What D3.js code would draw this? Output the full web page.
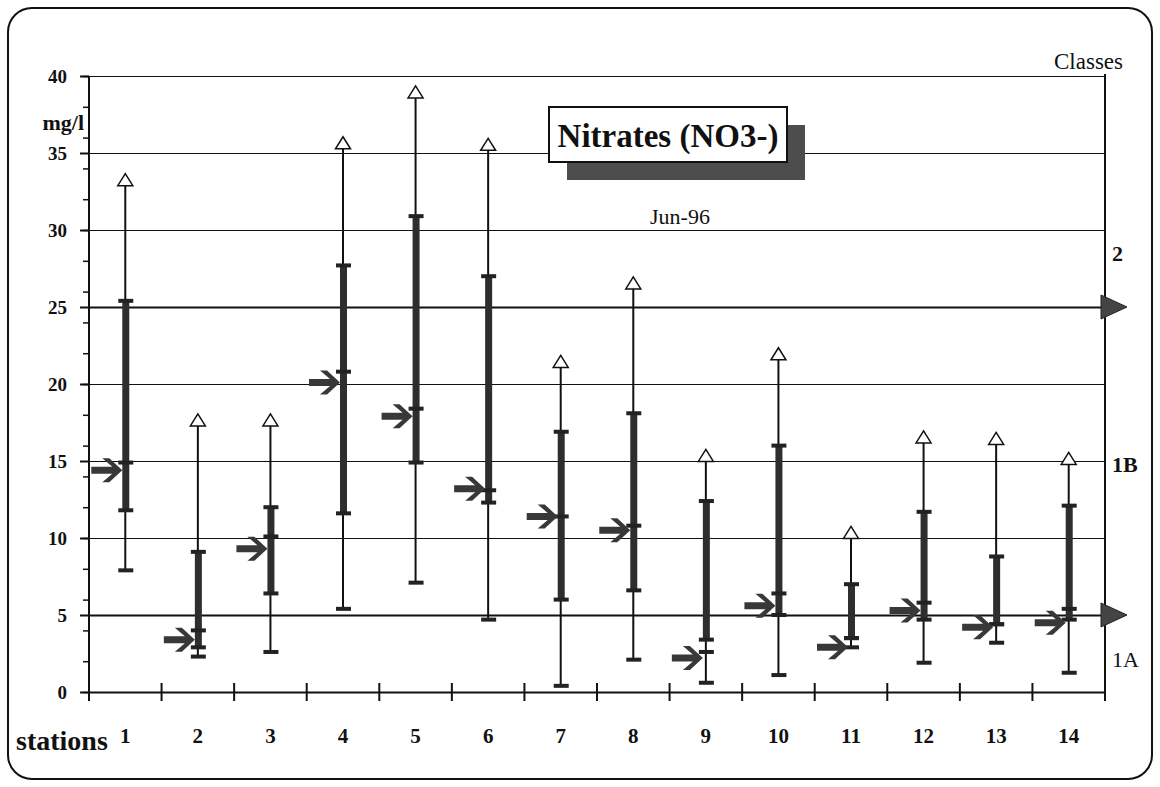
<!DOCTYPE html>
<html>
<head>
<meta charset="utf-8">
<script src="https://cdn.jsdelivr.net/npm/d3@7"></script>
<style>
  body { margin: 0; background: #fff; }
  svg { display: block; font-family: "Liberation Serif", "Times New Roman", serif; }
</style>
</head>
<body>
<script>
// Nitrates (NO3-) per station, Jun-96
var stations  = ["1","2","3","4","5","6","7","8","9","10","11","12","13","14"];
var maxVals   = [33.2, 17.6, 17.6, 35.6, 38.9, 35.5, 21.4, 26.5, 15.3, 21.9, 10.3, 16.5, 16.4, 15.1];
var upperVals = [25.4,  9.1, 12.0, 27.7, 30.9, 27.0, 16.9, 18.1, 12.4, 16.0,  7.0, 11.7,  8.8, 12.1];
var midVals   = [14.9,  4.0, 10.1, 20.8, 18.4, 13.1, 11.4, 10.8,  2.6,  6.4,  3.5,  5.8,  4.4,  5.4];
var lowerVals = [11.8,  2.9,  6.4, 11.6, 14.9, 12.3,  6.0,  6.6,  3.4,  5.0,  3.5,  4.7,  4.4,  4.7];
var minVals   = [ 7.9,  2.3,  2.6,  5.4,  7.1,  4.7,  0.4,  2.1,  0.6,  1.1,  2.9,  1.9,  3.2,  1.25];
var meanVals  = [14.4,  3.4,  9.3, 20.1, 17.9, 13.2, 11.4, 10.5,  2.2,  5.6,  2.9,  5.3,  4.2,  4.5];

var yTicks = [0, 5, 10, 15, 20, 25, 30, 35, 40];
var classLimits = [25, 5];
var classNames  = ["2", "1B", "1A"];
var classMids   = [28.5, 14.8, 2.1];

var W = 1160, H = 787;
var plotLeft = 89, plotRight = 1105, plotTop = 76, plotBottom = 692;

var svg = d3.select("body").append("svg")
    .attr("width", W)
    .attr("height", H);

// rounded frame
svg.append("rect")
    .attr("x", 8).attr("y", 8)
    .attr("width", 1144).attr("height", 771)
    .attr("rx", 24).attr("ry", 24)
    .attr("fill", "#fff")
    .attr("stroke", "#111")
    .attr("stroke-width", 2);

var x = d3.scaleBand()
    .domain(stations)
    .range([plotLeft, plotRight])
    .padding(0);

var y = d3.scaleLinear()
    .domain([0, 40])
    .range([plotBottom, plotTop]);

var cx = function(i) { return x(stations[i]) + x.bandwidth() / 2; };

// gridlines
svg.selectAll(".grid").data(yTicks.filter(function(d) { return d > 0; })).enter()
  .append("line")
    .attr("class", "grid")
    .attr("x1", plotLeft).attr("x2", plotRight)
    .attr("y1", function(d) { return y(d) + 0.5; })
    .attr("y2", function(d) { return y(d) + 0.5; })
    .attr("stroke", "#111")
    .attr("stroke-width", function(d) { return classLimits.indexOf(d) >= 0 ? 2.2 : 1; });

// minor y ticks
var minor = svg.append("g")
    .attr("transform", "translate(" + plotLeft + ",0)")
    .call(d3.axisLeft(y).tickValues(d3.range(0, 41, 2)).tickSize(6).tickFormat(""));
minor.select(".domain").remove();
minor.selectAll("line").attr("stroke", "#111").attr("stroke-width", 1.5);

// major y axis
var yAxis = svg.append("g")
    .attr("transform", "translate(" + plotLeft + ",0)")
    .call(d3.axisLeft(y).tickValues(yTicks).tickSize(9).tickPadding(13).tickSizeOuter(0));
yAxis.select(".domain").attr("stroke", "#111").attr("stroke-width", 2)
    .attr("d", "M0," + plotTop + "V" + (plotBottom + 9));
yAxis.selectAll("line").attr("stroke", "#111").attr("stroke-width", 2);
yAxis.selectAll("text")
    .attr("fill", "#111")
    .style("font-family", "Liberation Serif, serif")
    .style("font-size", "19px")
    .style("font-weight", "bold");

svg.append("text")
    .attr("x", 84).attr("y", 130)
    .attr("text-anchor", "end")
    .style("font-size", "22px").style("font-weight", "bold")
    .attr("fill", "#111")
    .text("mg/l");

// right axis
svg.append("line")
    .attr("x1", plotRight).attr("x2", plotRight)
    .attr("y1", plotTop - 2).attr("y2", plotBottom + 6)
    .attr("stroke", "#111").attr("stroke-width", 2);

// x axis
var xAxis = svg.append("g")
    .attr("transform", "translate(0," + plotBottom + ")")
    .call(d3.axisBottom(x).tickSize(0).tickPadding(36).tickSizeOuter(0));
xAxis.select(".domain").attr("stroke", "#111").attr("stroke-width", 2);
xAxis.selectAll("text")
    .attr("fill", "#111")
    .style("font-family", "Liberation Serif, serif")
    .style("font-size", "21px")
    .style("font-weight", "bold");

svg.selectAll(".xtick").data(stations).enter()
  .append("line")
    .attr("class", "xtick")
    .attr("x1", function(d) { return x(d) + x.bandwidth(); })
    .attr("x2", function(d) { return x(d) + x.bandwidth(); })
    .attr("y1", plotBottom - 9).attr("y2", plotBottom + 9)
    .attr("stroke", "#111").attr("stroke-width", 2);

svg.append("text")
    .attr("x", 16).attr("y", 750)
    .style("font-size", "28px").style("font-weight", "bold")
    .attr("fill", "#111")
    .text("stations");

// class markers
svg.selectAll(".classArrow").data(classLimits).enter()
  .append("path")
    .attr("class", "classArrow")
    .attr("d", function(d) {
      var yy = y(d);
      return "M" + (plotRight - 4) + "," + (yy - 12) + "L" + (plotRight + 22) + "," + yy +
             "L" + (plotRight - 4) + "," + (yy + 12) + "Z";
    })
    .attr("fill", "#444")
    .attr("stroke", "#222").attr("stroke-width", 1);

svg.selectAll(".className").data(classNames).enter()
  .append("text")
    .attr("class", "className")
    .attr("x", plotRight + 7)
    .attr("y", function(d, i) { return y(classMids[i]); })
    .attr("dy", "0.35em")
    .style("font-size", "22px")
    .style("font-weight", function(d) { return d === "1A" ? "normal" : "bold"; })
    .attr("fill", "#111")
    .text(function(d) { return d; });

svg.append("text")
    .attr("x", 1123).attr("y", 69)
    .attr("text-anchor", "end")
    .style("font-size", "23px")
    .attr("fill", "#111")
    .text("Classes");

// title box with shadow
svg.append("rect")
    .attr("x", 567).attr("y", 125).attr("width", 238).attr("height", 55)
    .attr("fill", "#4d4d4d");
svg.append("rect")
    .attr("x", 549).attr("y", 107).attr("width", 238).attr("height", 55)
    .attr("fill", "#fff").attr("stroke", "#111").attr("stroke-width", 2);
svg.append("text")
    .attr("x", 668).attr("y", 147)
    .attr("text-anchor", "middle")
    .style("font-size", "33px").style("font-weight", "bold")
    .attr("fill", "#111")
    .text("Nitrates (NO3-)");

svg.append("text")
    .attr("x", 680).attr("y", 224)
    .attr("text-anchor", "middle")
    .style("font-size", "22px")
    .attr("fill", "#111")
    .text("Jun-96");

// stations
var idx = d3.range(stations.length);
var marks = svg.append("g");

// whisker min -> max
marks.selectAll(".whisker").data(idx).enter()
  .append("line")
    .attr("x1", cx).attr("x2", cx)
    .attr("y1", function(i) { return y(minVals[i]); })
    .attr("y2", function(i) { return y(maxVals[i]); })
    .attr("stroke", "#111").attr("stroke-width", 2);

// thick bar lower -> upper
marks.selectAll(".bar").data(idx).enter()
  .append("rect")
    .attr("x", function(i) { return cx(i) - 3; })
    .attr("width", 7)
    .attr("y", function(i) { return y(upperVals[i]); })
    .attr("height", function(i) { return y(lowerVals[i]) - y(upperVals[i]); })
    .attr("fill", "#2e2e2e");

// small caps
var capSets = [minVals, lowerVals, midVals, upperVals];
capSets.forEach(function(vals) {
  marks.selectAll(null).data(idx).enter()
    .append("rect")
      .attr("x", function(i) { return cx(i) - 7; })
      .attr("y", function(i) { return y(vals[i]) - 2; })
      .attr("width", 15).attr("height", 4)
      .attr("fill", "#222");
});

// max triangles
marks.selectAll(".tri").data(idx).enter()
  .append("path")
    .attr("d", function(i) {
      var px = cx(i), py = y(maxVals[i]);
      return "M" + px + "," + (py - 7) + "L" + (px + 7.5) + "," + (py + 5) +
             "L" + (px - 7.5) + "," + (py + 5) + "Z";
    })
    .attr("fill", "#fff")
    .attr("stroke", "#111").attr("stroke-width", 1.5);

// mean arrows
marks.selectAll(".arrow").data(idx).enter()
  .append("path")
    .attr("transform", function(i) {
      return "translate(" + (cx(i) - 3) + "," + y(meanVals[i]) + ")";
    })
    .attr("d", "M0,0L-13,-12L-20,-12L-10,-3.5L-31,-3.5L-31,3.5L-10,3.5L-20,12L-13,12Z")
    .attr("fill", "#383838");
</script>
</body>
</html>
